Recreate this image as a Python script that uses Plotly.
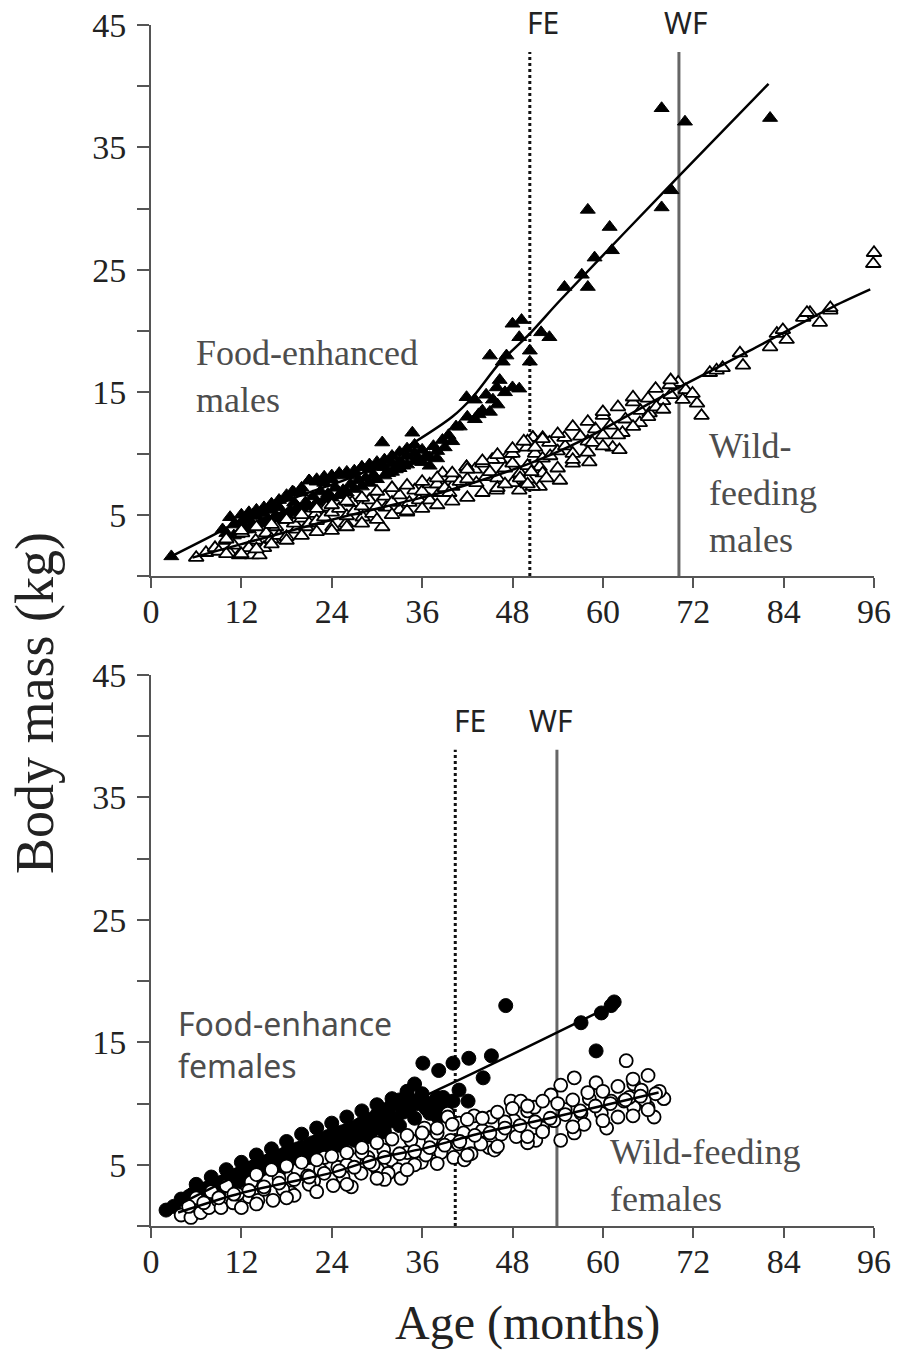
import plotly.graph_objects as go

# ---------------- DATA ----------------
# Top panel: males (age in months, body mass in kg)
fe_m_age = [2.7, 9.5, 10.5, 10.0, 11.0, 11.5, 12.0, 12.5, 13.0, 13.5, 14.0, 14.5, 15.0, 15.5, 16.0, 16.5,
            17.0, 17.5, 18.0, 18.5, 18.8, 19.0, 19.5, 20.0, 20.5, 21.0, 21.5, 22.0, 22.5, 23.0, 23.5, 24.0,
            24.5, 25.0, 25.5, 26.0, 26.5, 27.0, 27.5, 28.0, 28.5, 29.0, 29.5, 30.0, 30.7, 31.0, 31.5, 32.0,
            32.5, 33.0, 33.5, 34.0, 34.7, 35.0, 35.5, 36.0, 36.5, 37.0, 37.5, 38.0, 38.7, 39.5, 40.5, 41.9,
            43.0, 43.5, 44.5, 45.0, 45.4, 45.9, 45.0, 46.3, 46.7, 47.2, 48.0, 48.9, 48.0, 49.2, 48.9, 50.3,
            50.3, 51.8, 52.9, 54.9, 57.2, 58.0, 58.9, 61.2, 58.0, 60.9, 67.8, 69.1, 67.8, 70.9, 82.2,
            10.0, 11.0, 12.0, 13.0, 14.0, 15.0, 16.0, 17.0, 18.0, 19.0, 20.0, 21.0, 22.0, 23.0, 24.0, 25.0,
            26.0, 27.0, 28.0, 29.0, 30.0, 31.0, 32.0, 33.0, 34.0, 35.0, 36.0, 37.0, 38.0, 39.0, 40.0, 41.0,
            42.0, 43.0, 44.0, 46.0, 47.0,
            12.0, 13.0, 14.0, 15.0, 16.0, 17.0, 18.0, 19.0, 20.0, 21.0, 22.0, 23.0, 24.0, 25.0, 26.0, 27.0,
            28.0, 29.0, 30.0, 31.0, 32.0, 33.0, 34.0, 35.0]
fe_m_mass = [1.6, 3.8, 4.8, 3.5, 4.2, 3.4, 4.4, 3.8, 4.6, 4.1, 4.9, 4.3, 5.1, 4.6, 5.4, 4.9,
             5.6, 5.0, 6.4, 5.4, 6.9, 6.0, 5.6, 6.8, 6.0, 7.8, 6.5, 7.7, 6.9, 7.6, 6.7, 7.9,
             7.2, 8.3, 7.0, 8.2, 7.5, 8.3, 7.8, 8.9, 8.0, 8.7, 8.2, 8.9, 10.9, 8.9, 8.4, 9.2,
             8.7, 9.4, 9.0, 9.8, 11.7, 10.0, 9.4, 10.3, 9.8, 9.7, 10.6, 10.2, 11.1, 11.5, 12.2, 14.6,
             14.4, 13.2, 14.8, 13.4, 14.4, 15.4, 18.0, 16.0, 17.5, 18.0, 15.4, 15.3, 20.6, 20.9, 19.5, 18.4,
             17.5, 19.9, 19.5, 23.6, 24.6, 23.6, 26.0, 26.6, 29.9, 28.5, 30.1, 31.5, 38.2, 37.1, 37.4,
             3.0, 3.3, 3.6, 3.8, 4.0, 4.3, 4.5, 4.7, 5.0, 5.2, 5.5, 5.7, 6.0, 6.2, 6.4, 6.6,
             6.8, 7.1, 7.3, 7.6, 7.9, 8.2, 8.5, 8.8, 9.1, 9.4, 9.3, 9.0, 9.6, 10.5, 11.0, 12.2,
             13.0, 12.8, 13.5, 14.0, 15.0,
             5.0, 5.2, 5.4, 5.6, 5.9, 6.2, 6.6, 6.8, 7.2, 7.8, 7.9, 8.1, 8.2, 8.4, 8.5, 8.6,
             8.9, 9.1, 9.3, 9.5, 9.8, 10.1, 10.4, 10.7]

wf_m_age = [6.0, 7.3, 10.4, 11.7, 13.4, 14.4, 10.0, 12.1, 13.9, 15.3, 16.6, 17.9, 19.3, 20.6, 21.9, 23.3,
            24.1, 25.9, 26.7, 28.1, 29.4, 30.7, 31.2, 33.0, 34.3, 35.6, 37.0, 38.3, 38.7, 40.0, 41.9, 43.2,
            44.5, 45.9, 46.3, 47.6, 48.5, 49.9, 50.7, 51.6, 51.6,
            8.5, 9.0, 11.0, 13.0, 15.0, 16.0, 17.0, 18.0, 19.0, 20.0, 21.0, 22.0, 23.0, 24.0, 25.0, 26.0,
            27.0, 28.0, 29.0, 30.0, 31.0, 32.0, 33.0, 34.0, 35.0, 36.0, 37.0, 38.0, 39.0, 40.0, 41.0, 42.0,
            43.0, 44.0, 45.0, 46.0, 47.0, 48.0, 49.0, 50.0, 51.0, 52.0, 53.0, 54.0, 55.0, 56.0, 57.0, 58.0,
            59.0, 60.0, 61.0, 63.0, 65.0, 66.0, 68.0, 69.0, 70.0, 71.0,
            39.6, 41.9, 45.3, 48.0, 50.7, 52.0, 52.9, 54.9, 54.3, 50.7, 48.9, 56.0, 58.2, 58.6, 60.0, 61.3,
            62.2, 62.6, 64.0, 64.9, 66.2, 67.1, 68.9, 70.6, 71.9, 72.5, 73.1, 74.2, 75.1, 75.9, 78.2, 78.6,
            82.2, 83.1, 83.9, 84.4, 86.6, 87.5, 88.8, 90.2, 87.1, 90.2, 95.9, 96.0,
            10.0, 12.0, 14.0, 16.0, 18.0, 20.0, 22.0, 24.0, 26.0, 28.0, 30.0, 32.0, 34.0, 36.0, 38.0, 40.0,
            42.0, 44.0, 46.0, 48.0, 50.0, 52.0, 54.0, 56.0, 58.0, 60.0, 62.0, 64.0, 66.0, 68.0,
            10.0, 12.0, 14.0, 16.0, 18.0, 20.0, 22.0, 24.0, 26.0, 28.0, 30.0, 32.0, 34.0, 36.0, 38.0, 40.0,
            42.0, 44.0, 46.0, 48.0, 50.0, 52.0, 54.0, 56.0, 58.0, 60.0, 62.0, 64.0, 67.0, 69.0,
            47.0, 49.0, 50.5, 51.0, 49.5, 50.0, 52.5]
wf_m_mass = [1.5, 1.9, 1.9, 1.7, 1.7, 1.7, 2.9, 3.5, 2.9, 3.5, 4.0, 4.6, 3.8, 4.0, 5.1, 5.6,
             4.0, 4.3, 6.0, 4.8, 5.1, 4.0, 5.6, 5.4, 6.0, 6.2, 6.2, 6.8, 8.4, 7.3, 8.9, 7.6,
             8.1, 7.0, 9.5, 10.0, 7.8, 10.5, 11.3, 8.9, 7.3,
             2.3, 2.0, 2.5, 2.3, 2.3, 3.0, 3.3, 3.2, 4.3, 4.7, 4.3, 4.5, 4.8, 5.2, 5.5, 4.9,
             5.3, 5.7, 6.2, 5.7, 6.5, 6.0, 6.6, 5.2, 7.0, 6.9, 7.5, 7.5, 7.2, 8.0, 7.7, 7.9,
             8.7, 9.2, 8.5, 8.0, 8.8, 9.2, 8.4, 9.0, 10.0, 9.6, 9.8, 10.2, 10.6, 10.0, 11.4, 11.0,
             12.0, 11.5, 12.3, 12.8, 13.5, 14.5, 14.3, 14.8, 15.8, 15.2,
             6.8, 8.9, 9.5, 10.0, 11.3, 11.3, 10.9, 11.3, 7.8, 7.3, 7.0, 9.2, 9.3, 10.9, 13.1, 10.5,
             10.3, 11.7, 14.2, 12.5, 13.3, 13.8, 15.6, 14.4, 14.9, 14.1, 13.1, 16.6, 16.8, 17.0, 18.2, 17.2,
             18.7, 19.8, 20.1, 19.3, 21.1, 21.5, 20.7, 21.7, 21.5, 21.9, 25.5, 26.4,
             1.8, 1.8, 2.2, 2.6, 2.9, 3.3, 3.6, 3.7, 4.0, 4.3, 4.6, 5.0, 5.3, 5.5, 5.8, 6.1,
             6.4, 6.8, 7.2, 7.6, 7.9, 8.4, 8.8, 9.5, 10.1, 10.6, 11.5, 12.2, 13.0, 13.6,
             3.0, 3.7, 4.0, 4.2, 4.6, 5.0, 5.5, 5.8, 6.1, 6.4, 6.9, 7.2, 7.4, 7.7, 8.0, 8.4,
             8.7, 9.4, 9.9, 10.4, 11.0, 11.2, 11.6, 12.2, 12.6, 13.4, 13.8, 14.6, 15.3, 16.0,
             7.5, 8.0, 8.5, 10.5, 11.0, 7.5, 8.0]

fe_m_fit_age = [2.7, 9.4, 12.0, 20.0, 28.0, 35.2, 40.0, 42.7, 46.3, 50.3, 54.3, 70.0, 82.0]
fe_m_fit_mass = [1.6, 3.7, 4.6, 6.6, 8.4, 11.0, 13.0, 14.6, 17.4, 19.8, 22.5, 32.6, 40.2]
wf_m_fit_age = [5.5, 12.0, 24.0, 36.0, 39.6, 50.3, 57.3, 66.2, 70.1, 79.5, 90.6, 95.5]
wf_m_fit_mass = [1.5, 2.6, 4.6, 6.4, 7.0, 9.2, 11.1, 14.1, 15.4, 18.4, 22.0, 23.4]

# Bottom panel: females
fe_f_age = [2.0, 4.0, 5.0, 6.0, 6.5, 7.0, 8.0, 8.5, 9.0, 10.0, 10.0, 11.0, 11.5, 12.0, 12.5, 13.0,
            13.5, 14.0, 14.5, 15.0, 15.0, 16.0, 16.5, 17.0, 17.5, 18.0, 18.5, 19.0, 19.5, 20.0, 20.5, 21.0,
            21.5, 22.0, 22.5, 23.0, 23.5, 24.0, 24.5, 25.0, 25.5, 26.0, 26.5, 27.0, 27.5, 28.0, 28.5, 29.0,
            29.5, 30.0, 30.5, 31.0, 31.5, 32.0, 32.5, 33.0, 33.5, 34.0, 34.5, 35.0, 35.5, 36.0, 36.5, 37.0,
            37.5, 38.0, 38.8, 38.1, 40.1, 40.9, 42.1, 36.1, 38.2, 40.1, 42.2, 45.2, 44.1, 47.1, 57.1, 59.8,
            61.1, 61.5, 59.1, 30.5, 33.2, 31.5, 35.9,
            6.0, 8.0, 10.0, 12.0, 14.0, 16.0, 18.0, 20.0, 22.0, 24.0, 26.0, 28.0, 30.0, 32.0, 34.0,
            7.0, 9.0, 11.0, 13.0, 15.0, 17.0, 19.0, 21.0, 23.0, 25.0, 27.0, 29.0, 31.0, 33.0, 35.0, 37.0, 39.0,
            3.0, 5.5, 7.5, 9.5, 11.5, 13.5, 15.5, 17.5, 19.5, 21.5, 23.5, 25.5, 27.5, 29.5, 31.5, 33.5,
            35.5, 37.5]
fe_f_mass = [1.3, 2.2, 2.4, 2.6, 2.2, 3.0, 3.2, 2.8, 3.5, 3.8, 3.3, 4.1, 3.6, 4.4, 3.9, 4.7,
             4.2, 5.0, 4.5, 5.2, 4.6, 5.5, 4.9, 5.7, 5.2, 6.0, 5.5, 6.1, 5.6, 6.4, 5.9, 6.6,
             6.1, 6.9, 6.4, 7.1, 6.5, 7.4, 6.8, 7.6, 6.9, 7.8, 7.2, 8.0, 7.4, 8.4, 7.6, 8.7,
             7.9, 9.1, 8.2, 9.5, 8.5, 9.9, 8.8, 10.3, 9.3, 10.7, 9.8, 11.6, 10.3, 10.8, 9.6, 10.0,
             9.2, 10.5, 10.5, 8.9, 10.2, 11.1, 10.2, 13.3, 12.7, 13.3, 13.7, 13.9, 12.1, 18.0, 16.6, 17.4,
             18.0, 18.3, 14.3, 8.0, 10.2, 9.4, 10.5,
             3.4, 4.0, 4.6, 5.2, 5.8, 6.3, 6.9, 7.5, 8.0, 8.4, 8.9, 9.4, 9.9, 10.4, 11.0,
             2.0, 2.6, 3.0, 3.5, 4.0, 4.5, 5.0, 5.6, 6.1, 6.6, 7.0, 7.3, 7.7, 8.2, 8.8, 9.2, 9.6,
             1.6, 2.6, 3.1, 3.6, 4.2, 4.8, 5.3, 5.8, 6.3, 6.8, 7.3, 7.7, 8.2, 8.6, 9.0, 9.6,
             10.0, 9.8]

wf_f_age = [4.0, 5.3, 6.6, 7.7, 8.9, 9.3, 10.9, 12.0, 13.3, 13.0, 14.2, 15.5, 16.2, 17.0, 18.6, 19.0,
            19.5, 20.8, 21.6, 23.0, 24.2, 24.8, 26.6, 27.0, 27.9, 28.8, 30.1, 30.9, 31.9, 32.8,
            33.2, 35.9, 37.6, 39.8, 39.4, 40.9, 42.9, 45.2, 44.9, 42.5, 40.2,
            31.5, 36.3, 37.2, 39.4, 40.8, 41.6, 43.8, 45.6, 47.8, 49.1, 48.2, 50.0, 50.9, 51.1, 53.1,
            54.4, 56.2, 53.5, 54.4, 56.2, 57.1, 58.2, 59.1, 59.8, 61.1, 63.1, 62.0, 64.1, 65.1, 66.0, 66.8,
            68.1, 64.1, 62.8,
            25.5, 26.0, 28.0, 29.5, 31.0, 34.0, 35.0, 34.5, 36.5, 38.5, 38.0, 41.5, 44.0, 46.5, 47.0, 48.5,
            50.0, 52.0, 55.0, 57.5, 60.5, 63.5, 65.5, 67.5, 11.5, 15.0, 17.5, 21.0, 22.5,
            6.0, 8.0, 10.0, 14.0, 16.0, 18.0, 20.0, 22.0, 24.0, 26.0, 28.0, 30.0, 32.0, 34.0, 36.0, 38.0,
            40.0, 42.0, 44.0, 46.0, 48.0, 50.0, 52.0, 54.0, 56.0, 58.0, 60.0, 62.0, 64.0, 66.0,
            5.0, 7.0, 9.0, 11.0, 13.0, 15.0, 17.0, 19.0, 21.0, 23.0, 25.0, 27.0, 29.0, 31.0, 33.0, 35.0,
            37.0, 39.0, 41.0, 43.0, 45.0, 47.0, 49.0, 51.0, 53.0, 55.0, 57.0, 59.0, 61.0, 63.0, 65.0, 67.0,
            14.0, 18.0, 22.0, 26.0, 30.0, 34.0, 38.0, 42.0, 46.0, 50.0, 52.0, 56.0, 60.0, 64.0, 66.0]
wf_f_mass = [0.9, 0.7, 1.1, 1.5, 2.1, 1.5, 1.9, 1.5, 3.6, 2.4, 2.1, 3.7, 2.1, 3.9, 2.7, 2.5,
             4.6, 4.1, 3.7, 5.6, 3.3, 4.8, 3.2, 5.4, 4.3, 5.6, 4.6, 6.2, 5.4, 4.6,
             3.9, 5.2, 6.3, 7.0, 9.2, 8.4, 9.0, 8.9, 6.4, 5.9, 5.6,
             4.3, 8.0, 7.0, 8.9, 6.7, 5.4, 6.7, 6.2, 10.2, 10.2, 8.6, 9.4, 9.7, 7.0, 10.7,
             11.5, 12.1, 8.6, 7.0, 7.6, 9.2, 10.4, 11.7, 9.2, 10.2, 13.5, 8.9, 11.6, 11.1, 9.7, 8.9,
             10.4, 9.7, 10.2,
             4.0, 5.0, 6.0, 5.0, 3.8, 6.0, 5.0, 7.0, 5.8, 6.0, 7.6, 7.6, 7.8, 7.5, 8.5, 7.3,
             6.8, 8.0, 9.5, 8.3, 8.0, 10.5, 10.3, 11.0, 2.6, 3.0, 3.0, 3.4, 4.6,
             2.3, 2.8, 3.3, 4.2, 4.6, 4.9, 5.2, 5.4, 5.7, 6.0, 6.4, 6.8, 7.1, 7.4, 7.6, 8.0,
             8.3, 8.7, 8.8, 9.3, 9.6, 9.8, 10.2, 10.0, 10.3, 10.9, 11.0, 11.4, 12.0, 12.3,
             1.6, 1.9, 2.3, 2.6, 2.9, 3.2, 3.5, 3.8, 4.0, 4.3, 4.5, 4.8, 5.2, 5.6, 5.9, 6.1,
             6.4, 6.6, 6.9, 7.4, 7.6, 8.0, 8.2, 8.5, 8.8, 9.1, 9.4, 9.8, 10.0, 10.3, 10.6, 10.8,
             1.8, 2.3, 2.8, 3.4, 3.9, 4.6, 5.1, 5.8, 6.5, 7.3, 7.7, 8.1, 8.6, 9.0, 9.5]

fe_f_fit_age = [2.3, 12.0, 24.0, 37.3, 61.5]
fe_f_fit_mass = [1.3, 4.3, 7.5, 10.9, 18.1]
wf_f_fit_age = [3.6, 12.0, 24.3, 30.5, 36.0, 43.9, 53.6, 67.4]
wf_f_fit_mass = [1.1, 2.7, 4.4, 5.6, 6.3, 7.6, 8.9, 10.9]

# Reference ages (FE = food-enhanced, WF = wild-feeding) and top of the marker lines
males_fe_age, males_wf_age, males_ref_top = 50.3, 70.1, 42.8
females_fe_age, females_wf_age, females_ref_top = 40.4, 53.9, 38.9

y_tick_vals = [0, 5, 10, 15, 20, 25, 30, 35, 40, 45]
y_tick_text = ["", "5", "", "15", "", "25", "", "35", "", "45"]
x_tick_vals = [0, 12, 24, 36, 48, 60, 72, 84, 96]
x_tick_text = ["0", "12", "24", "36", "48", "60", "72", "84", "96"]

# ---------------- FIGURE ----------------
SERIF = "Liberation Serif, Times New Roman, serif"
SANS = "Noto Sans, Open Sans, sans-serif"
AXC = "#555555"

fig = go.Figure()


def add_panel(xa, ya, fe_x, fe_y, wf_x, wf_y, fe_fx, fe_fy, wf_fx, wf_fy, sym, size_fe, size_wf,
              fe_ref, wf_ref, ref_top):
    fig.add_trace(go.Scatter(x=[fe_ref, fe_ref], y=[0, ref_top], mode="lines",
                             line=dict(color="#111111", width=3, dash="dot"),
                             xaxis=xa, yaxis=ya, showlegend=False, hoverinfo="skip"))
    fig.add_trace(go.Scatter(x=[wf_ref, wf_ref], y=[0, ref_top], mode="lines",
                             line=dict(color="#666666", width=3),
                             xaxis=xa, yaxis=ya, showlegend=False, hoverinfo="skip"))
    fig.add_trace(go.Scatter(x=fe_x, y=fe_y, mode="markers",
                             marker=dict(symbol=sym, size=size_fe, color="black",
                                         line=dict(color="black", width=1)),
                             xaxis=xa, yaxis=ya, showlegend=False, cliponaxis=False))
    fig.add_trace(go.Scatter(x=wf_x, y=wf_y, mode="markers",
                             marker=dict(symbol=sym, size=size_wf, color="white",
                                         line=dict(color="black", width=1.8)),
                             xaxis=xa, yaxis=ya, showlegend=False, cliponaxis=False))
    fig.add_trace(go.Scatter(x=fe_fx, y=fe_fy, mode="lines",
                             line=dict(color="black", width=2.5, shape="spline", smoothing=0.8),
                             xaxis=xa, yaxis=ya, showlegend=False))
    fig.add_trace(go.Scatter(x=wf_fx, y=wf_fy, mode="lines",
                             line=dict(color="black", width=2.5, shape="spline", smoothing=0.8),
                             xaxis=xa, yaxis=ya, showlegend=False))


add_panel("x", "y", fe_m_age, fe_m_mass, wf_m_age, wf_m_mass,
          fe_m_fit_age, fe_m_fit_mass, wf_m_fit_age, wf_m_fit_mass,
          "triangle-up", 13, 13, males_fe_age, males_wf_age, males_ref_top)
add_panel("x2", "y2", fe_f_age, fe_f_mass, wf_f_age, wf_f_mass,
          fe_f_fit_age, fe_f_fit_mass, wf_f_fit_age, wf_f_fit_mass,
          "circle", 14, 13, females_fe_age, females_wf_age, females_ref_top)

axis_common = dict(showline=True, linecolor=AXC, linewidth=2, ticks="outside",
                   tickcolor=AXC, tickwidth=2, showgrid=False, zeroline=False, automargin=False,
                   ticklabeloverflow="allow",
                   tickfont=dict(family=SERIF, size=34, color="#222222"))

W, H = 903, 1355
pw, ph = 723, 1201
ml, mt = 151, 25
mr = W - ml - pw
mb = H - mt - ph
top_dom = [(1226 - 576) / ph, 1.0]
bot_dom = [0.0, (1226 - 675) / ph]

fig.update_layout(
    width=W, height=H, margin=dict(l=ml, r=mr, t=mt, b=mb, autoexpand=False),
    plot_bgcolor="white", paper_bgcolor="white", showlegend=False,
    xaxis=dict(range=[0, 96], tickvals=x_tick_vals, ticktext=x_tick_text, ticklen=10,
               anchor="y", domain=[0, 1], ticklabelstandoff=-6, **axis_common),
    yaxis=dict(range=[0, 45], tickvals=y_tick_vals, ticktext=y_tick_text, ticklen=12,
               anchor="x", domain=top_dom, ticklabelstandoff=4, **axis_common),
    xaxis2=dict(range=[0, 96], tickvals=x_tick_vals, ticktext=x_tick_text, ticklen=10,
                anchor="y2", domain=[0, 1], ticklabelstandoff=-6, **axis_common),
    yaxis2=dict(range=[0, 45], tickvals=y_tick_vals, ticktext=y_tick_text, ticklen=12,
                anchor="x2", domain=bot_dom, ticklabelstandoff=4, **axis_common),
)

# light box behind "Wild-feeding females" that partly veils the x axis line
fig.add_shape(type="rect", xref="x2", yref="y2", x0=62.5, x1=93.8, y0=-0.16, y1=0.16,
              fillcolor="rgba(255,255,255,0.55)", line=dict(width=0), layer="above")

ann_grey = "#4d4d4d"


def ppx(px):
    return (px - ml) / pw


def ppy(py):
    return (mt + ph - py) / ph


anns = [
    dict(x=5.7, y=16.3, xref="x", yref="y", text="Food-enhanced<br>males", xanchor="left",
         yanchor="middle", align="left", showarrow=False,
         font=dict(family=SERIF, size=36, color=ann_grey)),
    dict(x=73.8, y=6.8, xref="x", yref="y", text="Wild-<br>feeding<br>males", xanchor="left",
         yanchor="middle", align="left", showarrow=False,
         font=dict(family=SERIF, size=36, color=ann_grey)),
    dict(x=3.3, y=14.8, xref="x2", yref="y2", text="Food-enhance<br>females", xanchor="left",
         yanchor="middle", align="left", showarrow=False,
         font=dict(family=SANS, size=32, color=ann_grey)),
    dict(x=60.7, y=4.1, xref="x2", yref="y2", text="Wild-feeding<br>females", xanchor="left",
         yanchor="middle", align="left", showarrow=False,
         font=dict(family=SERIF, size=36, color=ann_grey)),
    dict(x=ppx(543), y=ppy(23), xref="paper", yref="paper", text="FE", showarrow=False,
         xanchor="center", yanchor="middle",
         font=dict(family=SANS, size=30, color="#222222")),
    dict(x=ppx(685), y=ppy(23), xref="paper", yref="paper", text="WF", showarrow=False,
         xanchor="center", yanchor="middle",
         font=dict(family=SANS, size=30, color="#222222")),
    dict(x=ppx(470), y=ppy(720), xref="paper", yref="paper", text="FE", showarrow=False,
         xanchor="center", yanchor="middle",
         font=dict(family=SANS, size=30, color="#222222")),
    dict(x=ppx(550), y=ppy(720), xref="paper", yref="paper", text="WF", showarrow=False,
         xanchor="center", yanchor="middle",
         font=dict(family=SANS, size=30, color="#222222")),
    dict(x=ppx(35), y=ppy(703), xref="paper", yref="paper",
         text="Body mass (kg)", textangle=-90, showarrow=False,
         xanchor="center", yanchor="middle",
         font=dict(family=SERIF, size=54, color="#222222")),
    dict(x=ppx(527), y=ppy(1323), xref="paper", yref="paper",
         text="Age (months)", showarrow=False, xanchor="center", yanchor="middle",
         font=dict(family=SERIF, size=48, color="#222222")),
]
fig.update_layout(annotations=anns)

# remove the browser's default 8px page margin so the figure fills the window exactly
fig.write_html("out.html", config={"displayModeBar": False},
               post_script="document.body.style.margin='0px';")
